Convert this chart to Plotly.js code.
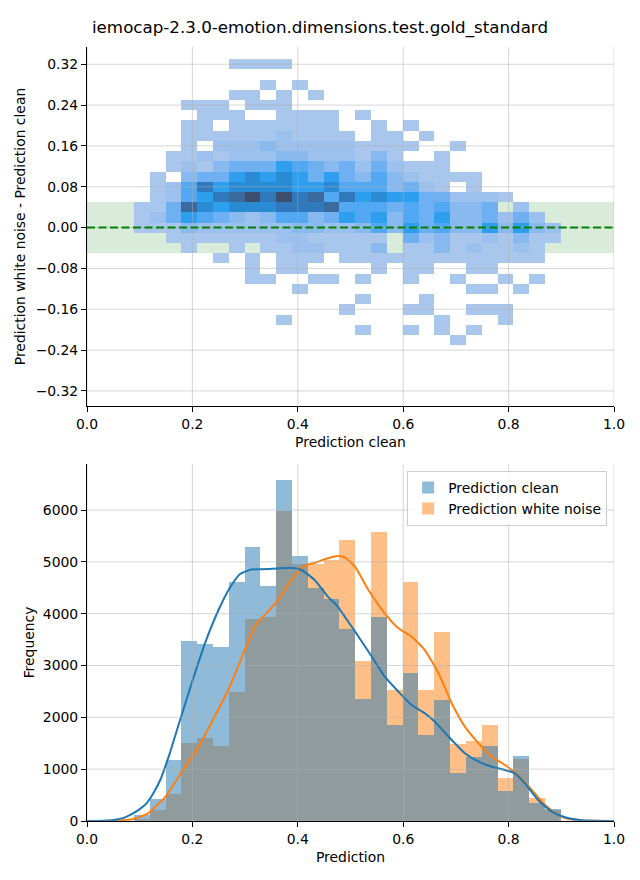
<!DOCTYPE html>
<html><head><meta charset="utf-8">
<script src="https://cdn.plot.ly/plotly-3.0.1.min.js"></script>
<style>html,body{margin:0;padding:0;background:#fff}</style>
</head><body><div id="chart" style="width:640px;height:880px"></div>
<script>
const titleText = "iemocap-2.3.0-emotion.dimensions.test.gold_standard";

// histogram bin centres (Prediction axis), width 0.03
const binCenters = [0.104,0.134,0.164,0.194,0.224,0.254,0.284,0.314,0.344,0.374,0.404,0.434,0.464,0.494,
  0.524,0.554,0.584,0.614,0.644,0.674,0.704,0.734,0.764,0.794,0.824,0.854,0.884];
const binWidth = 0.03;

// difference bin centres (top heatmap rows, top to bottom)
const diffCenters = [0.32,0.30,0.28,0.26,0.24,0.22,0.20,0.18,0.16,0.14,0.12,0.10,0.08,0.06,0.04,0.02,0.00,
  -0.02,-0.04,-0.06,-0.08,-0.10,-0.12,-0.14,-0.16,-0.18,-0.20,-0.22];

// relative density level of each 2D-histogram cell (0 = empty), rows follow diffCenters
const density = [
 [0,0,0,0,0,0,1,1,1,1,0,0,0,0,0,0,0,0,0,0,0,0,0,0,0,0,0],
 [0,0,0,0,0,0,0,0,0,0,0,0,0,0,0,0,0,0,0,0,0,0,0,0,0,0,0],
 [0,0,0,0,0,0,0,0,1,0,1,0,0,0,0,0,0,0,0,0,0,0,0,0,0,0,0],
 [0,0,0,0,0,0,1,1,0,1,0,1,0,0,0,0,0,0,0,0,0,0,0,0,0,0,0],
 [0,0,0,1,1,1,0,1,1,1,0,0,0,0,0,0,0,0,0,0,0,0,0,0,0,0,0],
 [0,0,0,0,1,1,1,0,0,1,1,1,1,0,1,0,0,0,0,0,0,0,0,0,0,0,0],
 [0,0,0,1,1,0,1,1,1,1,1,1,1,0,0,1,0,1,0,0,0,0,0,0,0,0,0],
 [0,0,0,1,1,1,1,1,1,2,1,1,1,1,0,1,1,0,1,0,0,0,0,0,0,0,0],
 [0,0,0,1,0,2,2,2,3,2,2,2,2,2,1,1,1,1,0,0,1,0,0,0,0,0,0],
 [0,0,1,1,2,1,2,2,2,3,3,2,2,2,1,3,1,0,0,1,0,0,0,0,0,0,0],
 [0,0,1,2,1,3,4,4,4,6,5,4,3,4,2,4,2,1,1,1,0,0,0,0,0,0,0],
 [0,1,0,3,4,4,6,7,6,7,6,4,6,4,3,5,3,2,1,1,1,1,0,0,0,0,0],
 [0,1,2,5,8,6,7,7,7,7,6,6,7,5,5,5,3,4,2,1,0,1,0,0,0,0,0],
 [0,1,2,5,6,8,9,10,8,10,8,9,5,8,6,7,6,6,4,4,2,2,2,1,0,0,0],
 [1,1,4,9,7,6,7,7,7,8,8,8,9,5,5,5,4,5,4,5,3,3,4,0,2,0,0],
 [1,2,4,6,5,4,3,2,3,5,5,3,4,6,5,6,3,5,4,6,3,3,4,2,4,2,0],
 [1,1,1,3,2,2,2,2,2,2,3,3,2,2,3,5,3,6,4,5,3,3,6,3,6,3,2],
 [0,0,1,1,1,1,1,1,1,2,2,1,1,1,1,1,0,4,2,3,1,1,2,1,3,1,1],
 [0,0,0,1,0,0,1,0,1,1,2,2,1,1,1,3,0,1,1,3,1,2,1,1,2,1,0],
 [0,0,0,0,0,1,0,1,0,1,1,1,0,1,1,1,1,1,1,1,1,1,1,1,1,1,0],
 [0,0,0,0,0,0,0,1,0,1,1,0,0,0,0,1,0,1,1,0,0,1,1,0,0,0,0],
 [0,0,0,0,0,0,0,1,1,0,0,1,1,0,1,0,0,1,0,0,1,0,0,1,0,1,0],
 [0,0,0,0,0,0,0,0,0,0,1,0,0,0,0,0,0,0,0,0,0,1,1,0,1,0,0],
 [0,0,0,0,0,0,0,0,0,0,0,0,0,0,1,0,0,0,1,0,0,0,0,0,0,0,0],
 [0,0,0,0,0,0,0,0,0,0,0,0,0,1,0,0,0,1,1,0,0,1,1,1,0,0,0],
 [0,0,0,0,0,0,0,0,0,1,0,0,0,0,0,0,0,0,0,1,0,0,0,1,0,0,0],
 [0,0,0,0,0,0,0,0,0,0,0,0,0,0,1,0,0,1,0,1,0,1,0,0,0,0,0],
 [0,0,0,0,0,0,0,0,0,0,0,0,0,0,0,0,0,0,0,0,1,0,0,0,0,0,0]
];

// histogram counts
const histClean = [110,430,1180,3470,3410,3350,4605,5280,4530,6570,5120,4500,4290,3700,2355,3935,1855,2855,1660,2335,930,1235,1450,585,1255,350,225];
const histNoise = [40,215,525,1505,1600,1455,2490,3895,3940,5990,4955,4950,5030,5415,3085,5570,2525,4605,2525,3645,1490,1545,1855,835,1200,450,215];

// KDE curves
const kdeCleanX = [0,0.03,0.05,0.07,0.082,0.10,0.113,0.125,0.139,0.157,0.176,0.20,0.225,0.25,0.27,0.29,0.31,0.331,0.36,0.388,0.407,0.432,0.457,0.474,0.49,0.505,0.515,0.54,0.565,0.591,0.616,0.641,0.66,0.692,0.717,0.743,0.768,0.793,0.812,0.831,0.856,0.882,0.907,0.935,0.96,1.0];
const kdeCleanY = [0,5,20,60,116,230,341,520,791,1306,1930,2700,3460,4080,4480,4760,4850,4856,4870,4888,4843,4650,4328,4160,3930,3710,3560,3180,2784,2495,2238,2078,1916,1563,1306,1144,1048,984,920,727,405,180,71,19,5,0];
const kdeNoiseX = [0,0.05,0.069,0.087,0.10,0.116,0.13,0.145,0.154,0.18,0.208,0.217,0.242,0.268,0.293,0.318,0.343,0.36,0.381,0.40,0.417,0.432,0.457,0.476,0.489,0.5085,0.534,0.565,0.591,0.616,0.641,0.667,0.692,0.717,0.743,0.768,0.793,0.818,0.844,0.869,0.894,0.91,0.935,0.96,1.0];
const kdeNoiseY = [0,5,15,40,80,148,280,420,540,951,1370,1530,2012,2527,3140,3749,4038,4231,4553,4810,4939,4980,5068,5113,5087,4907,4457,4007,3718,3556,3299,2850,2271,1820,1499,1241,1080,888,598,309,116,50,12,3,0];

const xTicks = [0,0.2,0.4,0.6,0.8,1.0];
const diffTicks = [0.32,0.24,0.16,0.08,0,-0.08,-0.16,-0.24,-0.32];
const freqTicks = [0,1000,2000,3000,4000,5000,6000];
const bandLimit = 0.05;

const FONT = 'DejaVu Sans';
const zData = density.map(r => r.map(v => v === 0 ? null : v));

const colorscale = [
  [0, '#a9c6ed'], [1/9, '#9cc1ee'], [2/9, '#88baf0'], [3/9, '#6eb0f2'], [4/9, '#52a8f3'],
  [5/9, '#2e9eef'], [6/9, '#2a8bd5'], [7/9, '#3079bc'], [8/9, '#3a6a9e'], [1, '#3d4f6d']
];

const traces = [
  {type:'heatmap', x: binCenters, y: diffCenters, z: zData, xaxis:'x', yaxis:'y',
   colorscale, zmin:1, zmax:10, showscale:false, hoverinfo:'skip'},
  {type:'bar', x: binCenters, y: histNoise, width: binWidth, xaxis:'x2', yaxis:'y2',
   name:'Prediction white noise', legendrank: 2,
   marker:{color:'rgba(255,127,14,0.5)', line:{width:0}}},
  {type:'bar', x: binCenters, y: histClean, width: binWidth, xaxis:'x2', yaxis:'y2',
   name:'Prediction clean', legendrank: 1,
   marker:{color:'rgba(31,119,180,0.5)', line:{width:0}}},
  {type:'scatter', mode:'lines', x: kdeNoiseX, y: kdeNoiseY, xaxis:'x2', yaxis:'y2', showlegend:false,
   line:{color:'#ff7f0e', width:2, shape:'spline', smoothing:0.5}},
  {type:'scatter', mode:'lines', x: kdeCleanX, y: kdeCleanY, xaxis:'x2', yaxis:'y2', showlegend:false,
   line:{color:'#1f77b4', width:2, shape:'spline', smoothing:0.5}}
];

const gridColor = 'rgba(176,176,176,0.5)';
const shapes = [];
shapes.push({type:'rect', layer:'below', xref:'x domain', yref:'y', x0:0, x1:1, y0:-bandLimit, y1:bandLimit,
  fillcolor:'rgba(0,128,0,0.15)', line:{width:0}});
function addGrid(xa, ya, xt, yt){
  xt.forEach(v => shapes.push({type:'line', layer:'above', xref:xa, yref:ya+' domain', x0:v, x1:v, y0:0, y1:1, line:{color:gridColor, width:1}}));
  yt.forEach(v => shapes.push({type:'line', layer:'above', xref:xa+' domain', yref:ya, x0:0, x1:1, y0:v, y1:v, line:{color:gridColor, width:1}}));
}
addGrid('x','y', xTicks, diffTicks);
addGrid('x2','y2', xTicks, freqTicks);
shapes.push({type:'line', layer:'above', xref:'x domain', yref:'y', x0:0, x1:1, y0:0, y1:0,
  line:{color:'#008000', width:2, dash:'8px,3.5px'}});

const axBase = {showline:true, linecolor:'#000', linewidth:1, ticks:'outside', ticklen:5, tickwidth:1, tickcolor:'#000',
  showgrid:false, zeroline:false, automargin:false, tickfont:{family:FONT, size:13.9, color:'#000'}};

const layout = {
  width:640, height:880,
  margin:{l:87, r:26, t:47, b:59},
  paper_bgcolor:'#fff', plot_bgcolor:'#fff',
  font:{family:FONT, size:13.9, color:'#000'},
  title:{text:titleText, x:0.5, xref:'container', xanchor:'center', y:1-27/880, yref:'container', yanchor:'middle',
    font:{family:FONT, size:16.7, color:'#000'}},
  barmode:'overlay', bargap:0,
  showlegend:true,
  legend:{x:0.987, xanchor:'right', y:(821-471)/774, yanchor:'top', xref:'paper', yref:'paper',
    bgcolor:'rgba(255,255,255,0.8)', bordercolor:'#cccccc', borderwidth:1,
    font:{family:FONT, size:13.9, color:'#000'}, traceorder:'normal'},
  xaxis: Object.assign({}, axBase, {domain:[0,1], anchor:'y', range:[0,1], tickvals:xTicks, tickformat:'.1f',
    title:{text:'Prediction clean', standoff:6, font:{family:FONT, size:13.9}}}),
  yaxis: Object.assign({}, axBase, {domain:[(821-406)/774, 1], anchor:'x', range:[-0.3495, 0.3538], tickvals:diffTicks, tickformat:'.2f',
    title:{text:'Prediction white noise - Prediction clean', standoff:6, font:{family:FONT, size:13.9}}}),
  xaxis2: Object.assign({}, axBase, {domain:[0,1], anchor:'y2', range:[0,1], tickvals:xTicks, tickformat:'.1f',
    title:{text:'Prediction', standoff:6, font:{family:FONT, size:13.9}}}),
  yaxis2: Object.assign({}, axBase, {domain:[0, (821-464)/774], anchor:'x2', range:[0, 6888], tickvals:freqTicks, tickformat:'d',
    title:{text:'Frequency', standoff:4, font:{family:FONT, size:13.9}}}),
  shapes
};

Plotly.newPlot('chart', traces, layout, {displayModeBar:false, staticPlot:true});
</script>
</body></html>
